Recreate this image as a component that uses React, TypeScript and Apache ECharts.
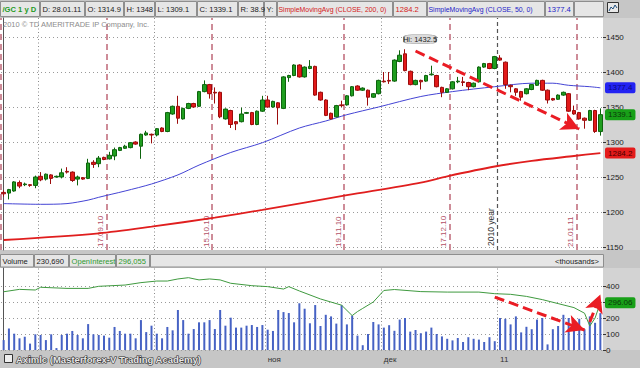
import React, { useEffect, useRef } from 'react';
import * as echarts from 'echarts';

const FONT = 'Liberation Sans, Arial, sans-serif';

// Trading days shown on the chart (23.08.10 - 28.01.11)
const dates = [
  '23.08.10','24.08.10','25.08.10','26.08.10','27.08.10','30.08.10','31.08.10',
  '01.09.10','02.09.10','03.09.10','06.09.10','07.09.10','08.09.10','09.09.10','10.09.10','13.09.10','14.09.10','15.09.10','16.09.10','17.09.10','20.09.10','21.09.10','22.09.10','23.09.10','24.09.10','27.09.10','28.09.10','29.09.10','30.09.10',
  '01.10.10','04.10.10','05.10.10','06.10.10','07.10.10','08.10.10','11.10.10','12.10.10','13.10.10','14.10.10','15.10.10','18.10.10','19.10.10','20.10.10','21.10.10','22.10.10','25.10.10','26.10.10','27.10.10','28.10.10','29.10.10',
  '01.11.10','02.11.10','03.11.10','04.11.10','05.11.10','08.11.10','09.11.10','10.11.10','11.11.10','12.11.10','15.11.10','16.11.10','17.11.10','18.11.10','19.11.10','22.11.10','23.11.10','24.11.10','25.11.10','26.11.10','29.11.10','30.11.10',
  '01.12.10','02.12.10','03.12.10','06.12.10','07.12.10','08.12.10','09.12.10','10.12.10','13.12.10','14.12.10','15.12.10','16.12.10','17.12.10','20.12.10','21.12.10','22.12.10','23.12.10','27.12.10','28.12.10','29.12.10','30.12.10','31.12.10',
  '03.01.11','04.01.11','05.01.11','06.01.11','07.01.11','10.01.11','11.01.11','12.01.11','13.01.11','14.01.11','17.01.11','18.01.11','19.01.11','20.01.11','21.01.11','24.01.11','25.01.11','26.01.11','27.01.11','28.01.11'
];

// [open, close, low, high]
const ohlc = [
  [1228,1226,1222,1231],[1227,1232,1218,1233],[1230,1243,1229,1244],[1242,1237,1234,1245],[1239,1240,1237,1242],
  [1239,1238,1236,1240],[1238,1250,1234,1252],[1251,1246,1244,1257],[1247,1254,1245,1255],[1253,1248,1240,1254],
  [1250,1251,1249,1252],[1250,1256,1248,1262],[1258,1257,1255,1264],[1257,1245,1243,1258],[1247,1250,1238,1252],
  [1249,1247,1246,1250],[1248,1270,1247,1276],[1271,1268,1263,1274],[1269,1277,1264,1280],[1278,1275,1274,1279],
  [1276,1281,1275,1286],[1280,1289,1274,1292],[1288,1292,1287,1293],[1291,1294,1290,1296],[1292,1299,1291,1300],
  [1300,1297,1296,1301],[1294,1311,1276,1312],[1310,1313,1309,1316],[1311,1310,1298,1312],[1310,1319,1308,1320],
  [1320,1315,1314,1321],[1315,1342,1314,1343],[1340,1351,1339,1352],[1351,1334,1326,1366],[1333,1348,1332,1349],
  [1348,1355,1347,1356],[1355,1350,1349,1356],[1351,1372,1350,1373],[1372,1382,1371,1388],[1382,1369,1362,1383],
  [1371,1370,1355,1378],[1371,1336,1334,1372],[1333,1347,1332,1348],[1345,1325,1320,1346],[1329,1326,1317,1330],
  [1329,1340,1328,1349],[1341,1342,1340,1343],[1342,1325,1324,1343],[1325,1344,1324,1345],[1344,1360,1343,1366],
  [1360,1350,1349,1366],[1350,1358,1349,1359],[1356,1349,1325,1357],[1348,1393,1347,1394],[1392,1395,1386,1396],
  [1395,1410,1394,1411],[1410,1393,1392,1411],[1393,1407,1392,1408],[1405,1408,1404,1417],[1408,1367,1366,1409],
  [1371,1360,1359,1372],[1360,1338,1337,1361],[1341,1333,1332,1342],[1336,1352,1335,1353],[1353,1352,1350,1359],
  [1353,1366,1352,1367],[1366,1379,1365,1380],[1380,1374,1373,1381],[1374,1377,1373,1378],[1374,1364,1352,1375],
  [1364,1369,1363,1370],[1369,1388,1368,1389],[1387,1386,1385,1400],[1388,1387,1383,1400],[1387,1417,1386,1418],
  [1415,1424,1414,1431],[1426,1402,1401,1432.5],[1401,1382,1381,1402],[1382,1388,1381,1389],[1388,1386,1375,1389],
  [1387,1395,1386,1396],[1396,1397,1395,1409],[1395,1379,1378,1396],[1378,1371,1364,1379],[1371,1376,1370,1377],
  [1376,1386,1375,1387],[1386,1387,1384,1393],[1386,1385,1380,1393],[1385,1379,1374,1386],[1379,1384,1378,1385],
  [1386,1407,1385,1408],[1407,1412,1406,1413],[1412,1405,1404,1413],[1405,1422,1404,1423],[1420,1417,1416,1424],
  [1414,1382,1376,1415],[1381,1379,1371,1382],[1376,1371,1366,1377],[1372,1364,1359,1373],[1369,1376,1368,1377],
  [1375,1382,1374,1383],[1381,1388,1380,1389],[1388,1374,1373,1389],[1374,1360,1355,1375],[1362,1360,1359,1363],
  [1361,1367,1360,1368],[1367,1371,1366,1372],[1369,1344,1343,1370],[1345,1340,1339,1352],[1342,1333,1332,1343],
  [1334,1331,1319,1335],[1331,1345,1330,1346],[1345,1315,1313,1346],[1314.9,1339.1,1309.1,1348]
];

// [day index, value] read along the moving averages
const sma50 = [
  [0,1212],[7,1211],[12,1212],[16,1217],[18,1221],[23,1230],[28,1240],[33,1253],[37,1267],[43,1285],
  [49,1299],[56,1320],[61,1330],[65,1339],[71,1350],[79,1365],[85,1372],[93,1379],[100,1384],[104,1384],
  [107,1381],[111,1379],[113,1377.4]
];
const sma200 = [
  [0,1160],[18,1169.5],[28,1179],[40,1192],[49,1203],[65,1224],[79,1242],[84,1251],[93,1265],[100,1273],
  [108,1280],[113,1284.2]
];

// volume, thousands
const volume = [
  62,135,102,73,83,40,98,94,62,98, 12,94,102,119,94,73,162,98,94,90,
  77,144,119,102,102,73,187,112,152,102, 73,144,123,250,187,102,131,173,173,187,
  131,250,152,202,140,140,152,156,144,156, 127,119,250,237,231,173,292,258,167,281,
  150,220,210,165,280,160,215,90,30,100, 175,160,140,155,120,190,200,115,125,105,
  115,140,100,85,70,60,75,50,80,70, 65,50,80,55,200,195,160,210,110,145,
  130,190,200,35,130,150,220,200,150,195, 130,210,170,230.69
];

// open interest, thousands: [day index, value]
const openInterest = [
  [0,364],[3,379],[6,375],[7,392],[12,385],[16,385],[18,398],[23,406],[26,421],[29,431],[31,431],[33,444],
  [35,452],[37,438],[39,444],[41,438],[43,417],[47,402],[50,396],[53,381],[54,396],[56,369],[60,319],[64,280],
  [66,215],[67,240],[68,260],[70,300],[72,372],[74,378],[79,365],[84,362],[90,362],[93,352],[96,348],[99,335],
  [102,315],[105,290],[108,265],[110,230],[111,150],[112,200],[113,296.055]
];

const expiryDates = ['20.08.10','17.09.10','15.10.10','19.11.10','17.12.10','21.01.11'];
const monthStarts = ['01.09.10','01.10.10','01.11.10','01.12.10'];
const yearStart = '03.01.11';
const monthLabels: Record<string, string> = { '01.11.10': 'ноя', '01.12.10': 'дек', '03.01.11': '11' };

const lastClose = 1339.1, lastSma50 = 1377.4, lastSma200 = 1284.2, lastOI = 296.06;

const RED_LINE = '#c2707f';
const ARROW = '#ea1c24';

function tag(value: number, text: string, bg: string, fg: string) {
  return {
    yAxis: value,
    lineStyle: { color: 'rgba(0,0,0,0)', width: 0 },
    label: {
      show: true, position: 'end', formatter: text,
      backgroundColor: bg, color: fg, fontSize: 8, fontFamily: FONT,
      padding: [2, 3, 1, 3], borderRadius: 2, distance: 2,
    },
  };
}

function buildOption() {
  const pos = (d: string) => dates.indexOf(d);
  const vLines: any[] = [];
  expiryDates.forEach((d) => {
    const x = pos(d) + 0.5;
    vLines.push({
      xAxis: x,
      lineStyle: { color: RED_LINE, width: 1.6, type: [6, 4] },
      label: {
        show: x > 0, position: 'insideStartTop', formatter: d, color: '#b24f67',
        fontSize: 8, fontFamily: FONT, distance: [3, 2],
      },
    });
  });
  monthStarts.forEach((d) => {
    vLines.push({ xAxis: pos(d) - 0.5, lineStyle: { color: '#8a8a8a', width: 1, type: [1, 2.5] }, label: { show: false } });
  });
  vLines.push({
    xAxis: pos(yearStart) - 0.5,
    lineStyle: { color: '#555', width: 1.2, type: [4, 3] },
    label: { show: true, position: 'insideStartTop', formatter: '2010 year', color: '#333', fontSize: 8.5, fontFamily: FONT, distance: [4, 2] },
  });
  const lowerLines = [...monthStarts, yearStart].map((d) => ({
    xAxis: pos(d) - 0.5, lineStyle: { color: '#8a8a8a', width: 1, type: [1, 2.5] }, label: { show: false },
  }));

  const arrowStyle = { color: ARROW, width: 3, type: [10, 5] };
  const arrow = (from: number[], to: number[]) => [
    { coord: from, symbol: 'none', lineStyle: arrowStyle },
    { coord: to, symbol: 'arrow', symbolSize: [14, 18], lineStyle: arrowStyle },
  ];

  const g: any[] = [];
  g.push({ type: 'rect', z: -100, silent: true, shape: { x: 0, y: 0, width: 640, height: 368 }, style: { fill: '#c6c6c6' } });
  g.push({ type: 'rect', z: -99, silent: true, shape: { x: 0, y: 18, width: 603, height: 232 }, style: { fill: '#ffffff' } });
  g.push({ type: 'rect', z: -99, silent: true, shape: { x: 603, y: 18, width: 37, height: 232 }, style: { fill: '#d3d3d3' } });
  g.push({ type: 'rect', z: -99, silent: true, shape: { x: 0, y: 268, width: 603, height: 82 }, style: { fill: '#ffffff' } });
  g.push({ type: 'rect', z: -99, silent: true, shape: { x: 603, y: 268, width: 37, height: 82 }, style: { fill: '#d3d3d3' } });

  const headerItems = [
    { x: 0, w: 39, t: '/GC 1 y D', c: '#1f9a1f', b: true },
    { x: 40, w: 44, t: 'D: 28.01.11' },
    { x: 85, w: 38, t: 'O: 1314.9' },
    { x: 124, w: 30, t: 'H: 1348' },
    { x: 155, w: 41, t: 'L: 1309.1' },
    { x: 197, w: 40, t: 'C: 1339.1' },
    { x: 238, w: 25, t: 'R: 38.9' },
    { x: 264, w: 12, t: 'Y:' },
    { x: 277, w: 115, t: 'SimpleMovingAvg (CLOSE, 200, 0)', c: '#d42020' },
    { x: 393, w: 33, t: '1284.2', c: '#d42020' },
    { x: 427, w: 117, t: 'SimpleMovingAvg (CLOSE, 50, 0)', c: '#2424c8' },
    { x: 545, w: 28, t: '1377.4', c: '#2424c8' },
    { x: 574, w: 29, t: '' },
  ];
  headerItems.forEach((h) => {
    g.push({ type: 'rect', z: 10, silent: true, shape: { x: h.x + 0.5, y: 1.5, width: h.w, height: 15 }, style: { fill: '#e6e6e6', stroke: '#8e8e8e', lineWidth: 1 } });
    if (h.t) {
      const long = h.t.length > 20;
      g.push({ type: 'text', z: 11, silent: true, x: h.x + (long ? 1.5 : 2.5), y: 9.5, style: { text: h.t, fill: h.c || '#1a1a1a', fontSize: long ? 6.9 : 7.6, fontFamily: FONT, fontWeight: h.b ? 'bold' : 'normal', verticalAlign: 'middle' } });
    }
  });
  g.push({ type: 'rect', z: 10, silent: true, shape: { x: 607.5, y: 2.5, width: 11, height: 10 }, style: { fill: '#e8e8e8', stroke: '#333', lineWidth: 1 } });
  g.push({ type: 'polyline', z: 11, silent: true, shape: { points: [[609, 11], [611, 7], [613, 9], [615, 5], [617, 8]] }, style: { stroke: '#205080', lineWidth: 1, fill: 'none' } });

  g.push({ type: 'text', z: 11, silent: true, x: 3, y: 24.5, style: { text: '2010 © TD AMERITRADE IP Company, Inc.', fill: '#8c8c8c', fontSize: 7.5, fontFamily: FONT, verticalAlign: 'middle' } });

  const lowerHeader = [
    { x: 0, w: 33, t: 'Volume' },
    { x: 34, w: 34, t: '230,690' },
    { x: 69, w: 46, t: 'OpenInterest', c: '#2f9a2f' },
    { x: 116, w: 33, t: '296,055', c: '#2f9a2f' },
    { x: 150, w: 453, t: '' },
  ];
  lowerHeader.forEach((h) => {
    g.push({ type: 'rect', z: 10, silent: true, shape: { x: h.x + 0.5, y: 254.5, width: h.w, height: 12.5 }, style: { fill: '#e6e6e6', stroke: '#8e8e8e', lineWidth: 1 } });
    if (h.t) g.push({ type: 'text', z: 11, silent: true, x: h.x + 2.5, y: 261, style: { text: h.t, fill: h.c || '#1a1a1a', fontSize: 7.6, fontFamily: FONT, verticalAlign: 'middle' } });
  });
  g.push({ type: 'text', z: 11, silent: true, x: 599, y: 261, style: { text: '<thousands>', fill: '#1a1a1a', fontSize: 7.6, fontFamily: FONT, align: 'right', verticalAlign: 'middle' } });

  g.push({ type: 'rect', z: 10, silent: true, shape: { x: 4.5, y: 354.5, width: 8, height: 8 }, style: { fill: '#eeeeee', stroke: '#333', lineWidth: 1 } });
  g.push({ type: 'text', z: 11, silent: true, x: 16, y: 359, style: { text: 'Aximlc (Masterforex-V Trading Academy)', fill: '#e8e8e8', stroke: '#2a2a2a', lineWidth: 1.2, fontSize: 9.5, fontWeight: 'bold', fontFamily: FONT, verticalAlign: 'middle' } });

  return {
    animation: false,
    textStyle: { fontFamily: FONT },
    grid: [
      { left: 1, right: 37, top: 37, height: 210 },
      { left: 1, right: 37, top: 18, height: 232 },
      { left: 1, right: 37, top: 286, height: 64 },
      { left: 1, right: 37, top: 268, height: 82 },
    ],
    xAxis: [
      { type: 'category', gridIndex: 0, data: dates, boundaryGap: true, show: false },
      { type: 'value', gridIndex: 1, min: -0.5, max: dates.length - 0.5, show: false },
      {
        type: 'category', gridIndex: 2, data: dates, boundaryGap: true,
        axisLine: { show: false }, axisTick: { show: false }, splitLine: { show: false },
        axisLabel: {
          interval: (_i: number, v: string) => v in monthLabels,
          formatter: (v: string) => monthLabels[v] || '',
          align: 'left', fontSize: 8, color: '#333', margin: 5, fontFamily: FONT,
        },
      },
      { type: 'value', gridIndex: 3, min: -0.5, max: dates.length - 0.5, show: false },
    ],
    yAxis: [
      {
        type: 'value', gridIndex: 0, position: 'right', min: 1150, max: 1450, interval: 50,
        axisLine: { show: false }, axisTick: { show: true, length: 3, lineStyle: { color: '#333' } },
        axisLabel: { fontSize: 8, color: '#222', margin: 3, fontFamily: FONT, formatter: (v: number) => String(v) },
        splitLine: { show: true, lineStyle: { color: '#9a9a9a', type: [1, 3] } },
      },
      {
        type: 'value', gridIndex: 1, position: 'right', min: 0, max: 1,
        axisLine: { show: true, lineStyle: { color: '#555' } }, axisTick: { show: false }, axisLabel: { show: false }, splitLine: { show: false },
      },
      {
        type: 'value', gridIndex: 2, position: 'right', min: 0, max: 400, interval: 100,
        axisLine: { show: false }, axisTick: { show: true, length: 3, lineStyle: { color: '#333' } },
        axisLabel: { fontSize: 8, color: '#222', margin: 3, fontFamily: FONT, formatter: (v: number) => (v === 300 ? '' : String(v)) },
        splitLine: { show: true, lineStyle: { color: '#9a9a9a', type: [1, 3] } },
      },
      {
        type: 'value', gridIndex: 3, position: 'right', min: 0, max: 1,
        axisLine: { show: true, lineStyle: { color: '#555' } }, axisTick: { show: false }, axisLabel: { show: false }, splitLine: { show: false },
      },
    ],
    series: [
      {
        type: 'line', xAxisIndex: 1, yAxisIndex: 1, data: [[-0.5, 0]], showSymbol: false, silent: true,
        lineStyle: { opacity: 0 }, z: 1,
        markLine: { silent: true, symbol: ['none', 'none'], z: 1, data: vLines },
      },
      {
        type: 'line', xAxisIndex: 3, yAxisIndex: 3, data: [[-0.5, 0]], showSymbol: false, silent: true,
        lineStyle: { opacity: 0 }, z: 1,
        markLine: { silent: true, symbol: ['none', 'none'], z: 1, data: lowerLines },
      },
      {
        type: 'candlestick', xAxisIndex: 0, yAxisIndex: 0, data: ohlc, barWidth: 4, z: 3,
        itemStyle: { color: '#1f9e1f', color0: '#e21a1a', borderColor: '#0d640d', borderColor0: '#9c0c0c', borderWidth: 1 },
        markPoint: {
          silent: true,
          data: [{ type: 'max', valueDim: 'highest', name: 'Hi' }],
          symbol: 'roundRect', symbolSize: [32, 9], symbolOffset: [15, -10],
          itemStyle: { color: '#dcdcdc', borderColor: '#9a9a9a', borderWidth: 1 },
          label: { show: true, position: 'inside', formatter: 'Hi: {c}', fontSize: 7.5, color: '#222', fontFamily: FONT },
        },
        markLine: {
          silent: true, symbol: ['none', 'none'], z: 6,
          data: [
            arrow([77.9, 1430], [108.8, 1318.6]),
            tag(lastClose, '1339.1', '#18a018', '#0b3a0b'),
          ],
        },
      },
      {
        type: 'line', xAxisIndex: 0, yAxisIndex: 0, data: sma200, showSymbol: false, smooth: 0.3, z: 2,
        lineStyle: { color: '#e01e1e', width: 1.8 },
        markLine: { silent: true, symbol: ['none', 'none'], z: 6, data: [tag(lastSma200, '1284.2', '#e41b1b', '#4a0000')] },
      },
      {
        type: 'line', xAxisIndex: 0, yAxisIndex: 0, data: sma50, showSymbol: false, smooth: 0.3, z: 2,
        lineStyle: { color: '#4444d4', width: 1 },
        markLine: { silent: true, symbol: ['none', 'none'], z: 6, data: [tag(lastSma50, '1377.4', '#2323f2', '#0a0a80')] },
      },
      {
        type: 'bar', xAxisIndex: 2, yAxisIndex: 2, data: volume, barWidth: 2, z: 2,
        itemStyle: { color: '#4662c4' },
        markLine: {
          silent: true, symbol: ['none', 'none'], z: 6,
          data: [
            arrow([93.4, 331], [109.7, 125]),
            arrow([111.2, 175], [113.1, 347]),
          ],
        },
      },
      {
        type: 'line', xAxisIndex: 2, yAxisIndex: 2, data: openInterest, showSymbol: false, clip: false, z: 3,
        lineStyle: { color: '#3f9a3f', width: 1 },
        markLine: { silent: true, symbol: ['none', 'none'], z: 6, data: [tag(lastOI, '296.06', '#18a018', '#0b3a0b')] },
      },
    ],
    graphic: g,
  };
}

export default function App() {
  const ref = useRef<HTMLDivElement>(null);
  useEffect(() => {
    if (!ref.current) return;
    const chart = echarts.init(ref.current, null, { renderer: 'svg' });
    chart.setOption(buildOption() as any);
    return () => chart.dispose();
  }, []);
  return (
    <div
      ref={ref}
      style={{ position: 'fixed', left: 0, top: 0, width: 640, height: 368, background: '#ffffff' }}
    />
  );
}
